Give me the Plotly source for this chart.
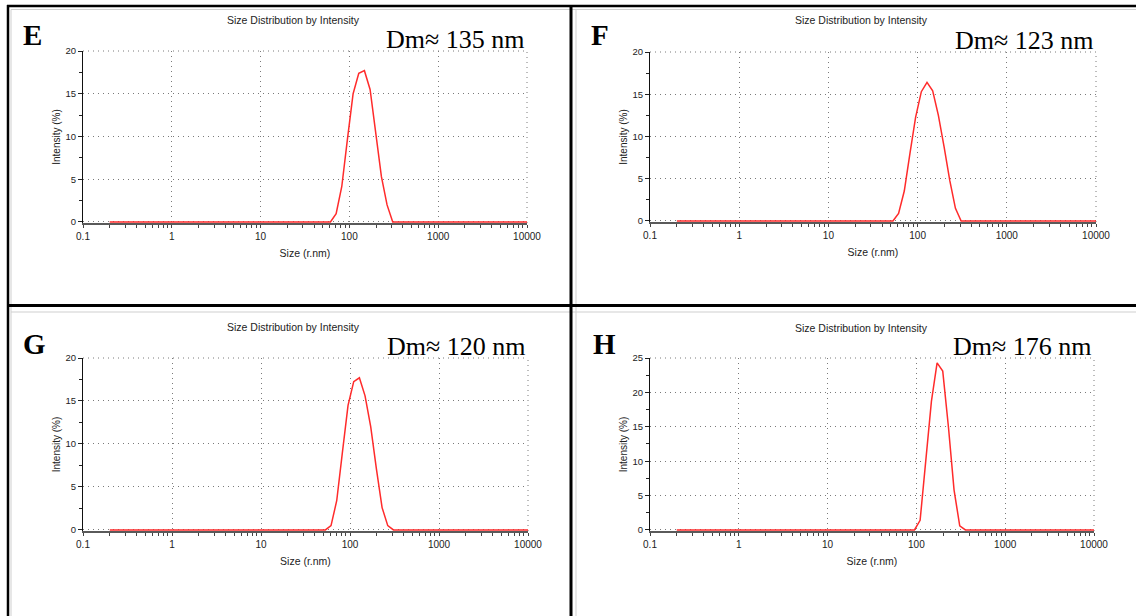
import plotly.graph_objects as go

# ---------------- data ----------------
sizes_E = [0.2, 61.2, 70.9, 82.1, 95.05, 110.1, 127.5, 147.6, 171.0, 198.0, 229.4, 265.6, 307.6, 10000]
intensity_E = [0, 0, 0.97, 4.15, 9.7, 15.0, 17.4, 17.7, 15.5, 10.3, 5.3, 2.0, 0, 0]

sizes_F = [0.2, 52.9, 61.2, 70.9, 82.1, 95.05, 110.1, 127.5, 147.6, 171.0, 198.0, 229.4, 265.6, 307.6, 10000]
intensity_F = [0, 0, 0.9, 3.55, 8.0, 12.3, 15.3, 16.4, 15.4, 12.5, 8.8, 4.8, 1.5, 0, 0]

sizes_G = [0.2, 52.9, 61.2, 70.9, 82.1, 95.05, 110.1, 127.5, 147.6, 171.0, 198.0, 229.4, 265.6, 307.6, 10000]
intensity_G = [0, 0, 0.5, 3.4, 9.0, 14.5, 17.25, 17.7, 15.6, 12.0, 7.1, 2.6, 0.5, 0, 0]

sizes_H = [0.2, 95.05, 110.1, 127.5, 147.6, 171.0, 198.0, 229.4, 265.6, 307.6, 356.2, 10000]
intensity_H = [0, 0, 1.4, 9.6, 18.7, 24.3, 23.1, 15.0, 5.8, 0.6, 0, 0]

panel_labels = ["E", "F", "G", "H"]
dm_texts = ["Dm\u2248 135 nm", "Dm\u2248 123 nm", "Dm\u2248 120 nm", "Dm\u2248 176 nm"]
y_max = [20, 20, 20, 25]

x_tick_vals = [0.1, 1, 10, 100, 1000, 10000]
x_tick_text = ["0.1", "1", "10", "100", "1000", "10000"]

chart_title = "Size Distribution by Intensity"
x_title = "Size (r.nm)"
y_title = "Intensity (%)"

# ---------------- layout helpers ----------------
W, H = 1136, 616


def px(x):
    return x / W


def py(y):
    return 1 - y / H


# plot-area pixel boxes: (left, right, top, bottom)
boxes = [(83, 527, 51, 223), (650, 1096, 52, 222), (83, 528, 358, 531), (650, 1094, 358, 531)]
title_pos = [(293, 20), (861, 20), (293, 327), (861, 328)]
letter_pos = [(32, 35), (600, 35), (34, 344), (604, 344)]

series = [(sizes_E, intensity_E), (sizes_F, intensity_F), (sizes_G, intensity_G), (sizes_H, intensity_H)]

minor_x = [m * 10 ** e for e in range(-1, 4) for m in range(2, 10)]

SANS = "Liberation Sans, Arial, sans-serif"
SERIF = "Liberation Serif, Times New Roman, serif"
GRID = "#7a7a7a"
GRID_DASH = "1px,4px"

fig = go.Figure()
layout = dict(
    width=W, height=H, margin=dict(l=0, r=0, t=0, b=0, pad=0, autoexpand=False),
    paper_bgcolor="white", plot_bgcolor="white", showlegend=False,
    annotations=[], shapes=[],
)

for i, ((sx, sy), box, ym) in enumerate(zip(series, boxes, y_max)):
    n = "" if i == 0 else str(i + 1)
    fig.add_trace(go.Scatter(
        x=sx, y=sy, mode="lines",
        line=dict(color="#ff2b2b", width=1.5),
        xaxis="x" + n, yaxis="y" + n, hoverinfo="skip",
    ))
    l, r, t, b = box
    layout["xaxis" + n] = dict(
        type="log", range=[-1, 4], domain=[px(l), px(r)], anchor="y" + n,
        automargin=False,
        tickmode="array", tickvals=x_tick_vals, ticktext=x_tick_text,
        ticks="outside", ticklen=3, tickwidth=1, tickcolor="#444",
        showline=True, linecolor="#5a5a5a", linewidth=1.5,
        showgrid=True, gridcolor=GRID, gridwidth=1, griddash=GRID_DASH,
        zeroline=False, layer="below traces",
        minor=dict(tickvals=minor_x, ticks="outside", ticklen=3, tickwidth=1,
                   tickcolor="#444", showgrid=False),
        tickfont=dict(family=SANS, size=10, color="#222"),
        title=dict(text=x_title, font=dict(family=SANS, size=10.5, color="#222"), standoff=9),
    )
    layout["yaxis" + n] = dict(
        range=[-0.006 * ym, ym], domain=[py(b), py(t)], anchor="x" + n,
        automargin=False,
        tickmode="linear", tick0=0, dtick=5,
        ticks="outside", ticklen=4, tickwidth=1, tickcolor="#222",
        showline=True, linecolor="#111", linewidth=1,
        showgrid=True, gridcolor=GRID, gridwidth=1, griddash=GRID_DASH,
        zeroline=False, layer="below traces",
        minor=dict(dtick=2.5, tick0=0, ticks="outside", ticklen=3, tickwidth=1,
                   tickcolor="#222", showgrid=False),
        tickfont=dict(family=SANS, size=9.5, color="#222"),
        title=dict(text=y_title, font=dict(family=SANS, size=10, color="#222"), standoff=3),
    )
    # dotted frame along top and right edge of each plot area
    layout["shapes"].append(dict(
        type="line", xref="paper", yref="paper", x0=px(l), x1=px(r), y0=py(t), y1=py(t),
        line=dict(color=GRID, width=1, dash=GRID_DASH), layer="below"))
    layout["shapes"].append(dict(
        type="line", xref="paper", yref="paper", x0=px(r), x1=px(r), y0=py(b), y1=py(t),
        line=dict(color=GRID, width=1, dash=GRID_DASH), layer="below"))
    # chart title
    tx, ty = title_pos[i]
    layout["annotations"].append(dict(
        text=chart_title, x=px(tx), y=py(ty), xref="paper", yref="paper",
        xanchor="center", yanchor="middle", showarrow=False,
        font=dict(family=SANS, size=10.5, color="#222"),
    ))
    # panel letter
    lx, ly = letter_pos[i]
    layout["annotations"].append(dict(
        text="<b>" + panel_labels[i] + "</b>", x=px(lx), y=py(ly), xref="paper", yref="paper",
        xanchor="center", yanchor="middle", showarrow=False,
        font=dict(family=SERIF, size=29, color="#000"),
    ))
    # Dm text
    layout["annotations"].append(dict(
        text=dm_texts[i], x=px(r), y=py(t - 12), xref="paper", yref="paper",
        xanchor="right", yanchor="middle", showarrow=False,
        font=dict(family=SERIF, size=26, color="#000"),
    ))

# frame lines of the composite
def line(x0, y0, x1, y1, color, width):
    return dict(type="line", xref="paper", yref="paper",
                x0=px(x0), y0=py(y0), x1=px(x1), y1=py(y1),
                line=dict(color=color, width=width), layer="above")

layout["shapes"] += [
    line(11, 9.5, 1136, 9.5, "#cfcfcf", 1),
    line(11, 9.5, 11, 616, "#cfcfcf", 1),
    line(576, 9.5, 576, 616, "#cfcfcf", 1),
    line(11, 312, 1136, 312, "#cfcfcf", 1),
    line(7, 6, 1136, 6, "#000", 2.5),
    line(8, 5, 8, 616, "#000", 2.5),
    line(571, 5, 571, 616, "#000", 3),
    line(7, 305.5, 1136, 305.5, "#000", 3),
]

fig.update_layout(**layout)
fig.write_html(
    "out.html",
    post_script="document.body.style.margin='0';document.body.style.overflow='hidden';",
)
